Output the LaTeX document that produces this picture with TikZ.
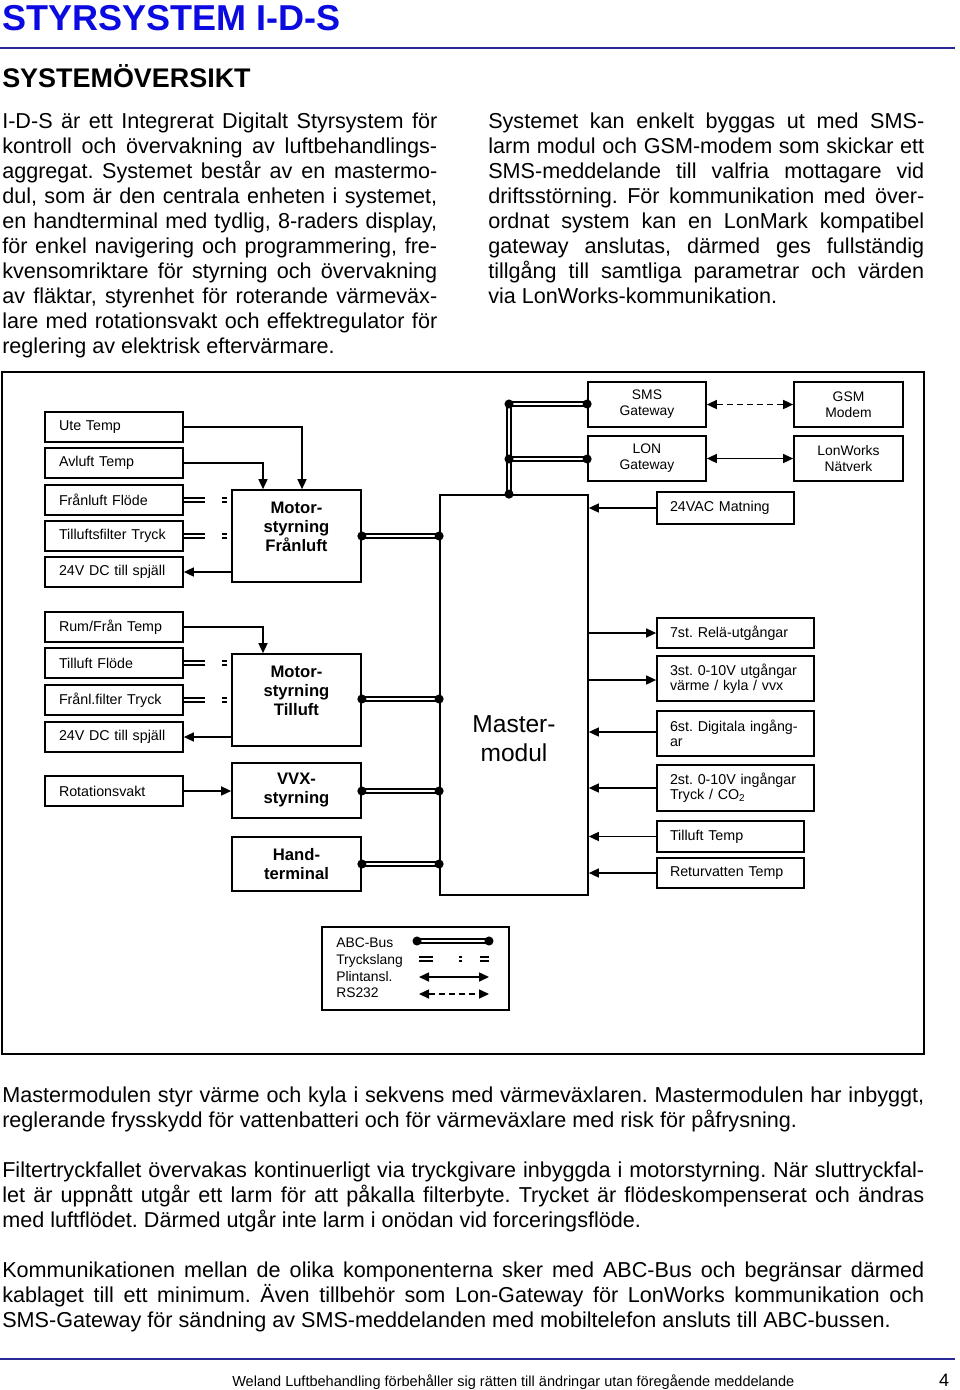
\documentclass[tikz,border=0pt]{standalone}
\usepackage{fontspec}
\setmainfont{Liberation Sans}
\usetikzlibrary{arrows.meta}
\definecolor{titleblue}{RGB}{10,10,225}
\definecolor{rulenavy}{RGB}{40,40,150}
\frenchspacing
\newcommand\jl[1]{\makebox[\linewidth][s]{#1}\\}
\newcommand\bodyfnt{\fontsize{16.2}{18.75}\selectfont}
\newcommand\dlbl{\fontsize{10.7}{12}\selectfont}
\newcommand\dbold{\fontsize{12.5}{14.25}\selectfont\bfseries}
\newcommand\dmaster{\fontsize{18.4}{21.75}\selectfont}
\newcommand\bdot[1]{\fill #1 circle (3.4pt);}
\begin{document}
\begin{tikzpicture}[x=0.75pt,y=-0.75pt,
  conn/.style={line width=1.05pt},
  arr/.style={conn,-{Triangle[length=7.5pt,width=6.8pt]}},
  darr/.style={conn,{Triangle[length=7.5pt,width=6.8pt]}-{Triangle[length=7.5pt,width=6.8pt]}},
  bus/.style={double, double distance=1.2pt, line width=1.45pt},
  tryck/.style={double, double distance=1.2pt, line width=1.35pt, dash pattern=on 15.75pt off 12.75pt on 3.75pt off 30pt},
  lbox/.style={draw, line width=1.3pt, font=\dlbl, inner xsep=10.5pt, inner ysep=0pt, text width=82.5pt, minimum height=22.5pt, align=left},
  rbox/.style={draw, line width=1.3pt, font=\dlbl, inner xsep=9.75pt, inner ysep=0pt, text width=98.25pt, align=left},
  gbox/.style={draw, line width=1.3pt, font=\fontsize{10.4}{12}\selectfont, inner sep=0pt, align=center, minimum height=33.75pt},
  boldbox/.style={draw, line width=1.3pt, inner sep=0pt, minimum width=96.75pt, font=\dbold, align=center},
  ptxt/.style={anchor=base west, inner sep=0pt, font=\bodyfnt}
]
\useasboundingbox (0,0) rectangle (960,1390);

% ---------- header ----------
\node[anchor=base west, inner sep=0pt, font=\fontsize{27}{27}\selectfont\bfseries, text=titleblue] (title) at (2,30) {STYRSYSTEM I-D-S};
\draw[rulenavy, line width=1.5pt] (0,48) -- (955,48);
\node[anchor=base west, inner sep=0pt, font=\fontsize{20.2}{20.2}\selectfont\bfseries] (subtitle) at (2,87) {SYSTEMÖVERSIKT};

\node[ptxt] (p1) at (2,128) {\parbox[t]{326.25pt}{\bodyfnt
\jl{I-D-S är ett Integrerat Digitalt Styrsystem för}
\jl{kontroll och övervakning av luftbehandlings-}
\jl{aggregat. Systemet består av en mastermo-}
\jl{dul, som är den centrala enheten i systemet,}
\jl{en handterminal med tydlig, 8-raders display,}
\jl{för enkel navigering och programmering, fre-}
\jl{kvensomriktare för styrning och övervakning}
\jl{av fläktar, styrenhet för roterande värmeväx-}
\jl{lare med rotationsvakt och effektregulator för}
reglering av elektrisk eftervärmare.}};

\node[ptxt] (p2) at (488,128) {\parbox[t]{327pt}{\bodyfnt
\jl{Systemet kan enkelt byggas ut med SMS-}
\jl{larm modul och GSM-modem som skickar ett}
\jl{SMS-meddelande till valfria mottagare vid}
\jl{driftsstörning. För kommunikation med över-}
\jl{ordnat system kan en LonMark kompatibel}
\jl{gateway anslutas, därmed ges fullständig}
\jl{tillgång till samtliga parametrar och värden}
via LonWorks-kommunikation.}};

% ---------- frame ----------
\draw[line width=1.5pt] (2,372) rectangle (924,1054);

% ---------- left column boxes ----------
\node[lbox] (ute) at (114,427) {Ute Temp};
\node[lbox] (avl) at (114,463) {Avluft Temp};
\node[lbox] (ffl) at (114,500) {Frånluft Flöde};
\node[lbox] (tft) at (114,536) {Tilluftsfilter Tryck};
\node[lbox] (dc1) at (114,572) {24V DC till spjäll};
\node[lbox] (rum) at (114,627) {Rum/Från Temp};
\node[lbox] (tfl) at (114,663) {Tilluft Flöde};
\node[lbox] (fft) at (114,700) {Frånl.filter Tryck};
\node[lbox] (dc2) at (114,737) {24V DC till spjäll};
\node[lbox] (rot) at (114,791) {Rotationsvakt};

% ---------- middle boxes ----------
\node[boldbox, minimum height=69pt] (mf) at (296.5,536) {};
\node[inner sep=0pt, font=\dbold, align=center] (mftxt) at (296.5,527) {Motor-\\styrning\\Frånluft};
\node[boldbox, minimum height=69pt] (mt) at (296.5,700) {};
\node[inner sep=0pt, font=\dbold, align=center] (mttxt) at (296.5,691) {Motor-\\styrning\\Tilluft};
\node[boldbox, minimum height=41.25pt] (vvx) at (296.5,790.5) {VVX-\\styrning};
\node[boldbox, minimum height=40.5pt] (hand) at (296.5,864) {Hand-\\terminal};

% ---------- master ----------
\node[draw, line width=1.3pt, inner sep=0pt, minimum width=111pt, minimum height=300pt] (master) at (514,695) {};
\node[inner sep=0pt, font=\dmaster, align=center] (mastertxt) at (514,739) {Master-\\modul};

% ---------- top right ----------
\node[gbox, minimum width=88.5pt] (sms) at (647,404.5) {SMS\\Gateway};
\node[gbox, minimum width=81.75pt] (gsm) at (848.5,404.5) {GSM\\Modem};
\node[gbox, minimum width=88.5pt] (lon) at (647,458.5) {LON\\Gateway};
\node[gbox, minimum width=81.75pt] (lwn) at (848.5,458.5) {LonWorks\\Nätverk};
\node[rbox, text width=83.25pt, minimum height=24pt] (vac) at (725.5,508) {24VAC Matning};

% ---------- right column ----------
\node[rbox, minimum height=22.5pt] (rel) at (735.5,633) {7st. Relä-utgångar};
\node[rbox, minimum height=33.75pt] (utg) at (735.5,678.5) {3st. 0-10V utgångar\\[-1pt]värme / kyla / vvx};
\node[rbox, minimum height=33.75pt] (dig) at (735.5,733.5) {6st. Digitala ingång-\\[-1pt]ar};
\node[rbox, minimum height=34.5pt] (ing) at (735.5,788) {2st. 0-10V ingångar\\[-1pt]Tryck / CO\textsubscript{2}};
\node[rbox, text width=90.75pt, minimum height=23.25pt] (tlt) at (730.5,836.5) {Tilluft Temp};
\node[rbox, text width=90.75pt, minimum height=22.5pt] (ret) at (730.5,873) {Returvatten Temp};

% ---------- connectors left ----------
\draw[arr] (ute.east) -| ([xshift=4.125pt]mf.north);
\draw[arr] (avl.east) -| ([xshift=-25.125pt]mf.north);
\draw[tryck] (ffl.east) -- (ffl.east -| mf.west);
\draw[tryck] (tft.east) -- (tft.east -| mf.west);
\draw[arr] (mf.west |- dc1.east) -- (dc1.east);

\draw[arr] (rum.east) -| ([xshift=-25.125pt]mt.north);
\draw[tryck] (tfl.east) -- (tfl.east -| mt.west);
\draw[tryck] (fft.east) -- (fft.east -| mt.west);
\draw[arr] (mt.west |- dc2.east) -- (dc2.east);
\draw[arr] (rot.east) -- (rot.east -| vvx.west);

% ---------- ABC bus ----------
\draw[bus] (mf.east) -- (mf.east -| master.west);
\bdot{(mf.east)} \bdot{(mf.east -| master.west)}
\draw[bus] (mt.east |- 0,699) -- (master.west |- 0,699);
\bdot{(mt.east |- 0,699)} \bdot{(master.west |- 0,699)}
\draw[bus] (vvx.east |- 0,791) -- (master.west |- 0,791);
\bdot{(vvx.east |- 0,791)} \bdot{(master.west |- 0,791)}
\draw[bus] (hand.east) -- (hand.east -| master.west);
\bdot{(hand.east)} \bdot{(hand.east -| master.west)}

\coordinate (bj1) at (509,404);
\coordinate (bj2) at (509,459);
\draw[bus] (master.north -| bj1) -- (bj1) -- (bj1 -| sms.west);
\draw[bus] (bj2) -- (bj2 -| lon.west);
\bdot{(master.north -| bj1)} \bdot{(bj1)} \bdot{(bj1 -| sms.west)} \bdot{(bj2)} \bdot{(bj2 -| lon.west)}

% ---------- connectors right ----------
\draw[darr, dash pattern=on 4.5pt off 3pt] (sms.east) -- (gsm.west);
\draw[darr] (lon.east) -- (lwn.west);
\draw[arr] (vac.west) -- (vac.west -| master.east);
\draw[arr] (master.east |- rel.west) -- (rel.west);
\draw[arr] (master.east |- 0,680) -- (utg.west |- 0,680);
\draw[arr] (dig.west |- 0,732) -- (master.east |- 0,732);
\draw[arr] (ing.west) -- (ing.west -| master.east);
\draw[arr] (tlt.west) -- (tlt.west -| master.east);
\draw[arr] (ret.west) -- (ret.west -| master.east);

% ---------- legend ----------
\node[draw, line width=1.3pt, inner sep=0pt, minimum width=140.25pt, minimum height=62.25pt] (legend) at (415.5,968.5) {};
\node[anchor=north west, inner sep=0pt, align=left, font=\fontsize{10.4}{12.5}\selectfont] (legtxt) at (336,938) {ABC-Bus\\Tryckslang\\Plintansl.\\RS232};
\coordinate (l1a) at (417,941); \coordinate (l1b) at (489,941);
\coordinate (l2a) at (419,959); \coordinate (l2b) at (489,959);
\coordinate (l3a) at (419,977); \coordinate (l3b) at (489,977);
\coordinate (l4a) at (419,994); \coordinate (l4b) at (489,994);
\draw[bus] (l1a) -- (l1b); \bdot{(l1a)} \bdot{(l1b)}
\draw[double, double distance=1.2pt, line width=1.35pt, dash pattern=on 10.5pt off 19.5pt on 2.25pt off 13.5pt on 6.75pt off 40pt] (l2a) -- (l2b);
\draw[darr] (l3a) -- (l3b);
\draw[darr, dash pattern=on 4.5pt off 3pt] (l4a) -- (l4b);

% ---------- bottom text ----------
\node[ptxt] (p3) at (2,1102) {\parbox[t]{691.5pt}{\bodyfnt
\jl{Mastermodulen styr värme och kyla i sekvens med värmeväxlaren. Mastermodulen har inbyggt,}
reglerande frysskydd för vattenbatteri och för värmeväxlare med risk för påfrysning.}};
\node[ptxt] (p4) at (2,1177) {\parbox[t]{691.5pt}{\bodyfnt
\jl{Filtertryckfallet övervakas kontinuerligt via tryckgivare inbyggda i motorstyrning. När sluttryckfal-}
\jl{let är uppnått utgår ett larm för att påkalla filterbyte. Trycket är flödeskompenserat och ändras}
med luftflödet. Därmed utgår inte larm i onödan vid forceringsflöde.}};
\node[ptxt] (p5) at (2,1277) {\parbox[t]{691.5pt}{\bodyfnt
\jl{Kommunikationen mellan de olika komponenterna sker med ABC-Bus och begränsar därmed}
\jl{kablaget till ett minimum. Även tillbehör som Lon-Gateway för LonWorks kommunikation och}
SMS-Gateway för sändning av SMS-meddelanden med mobiltelefon ansluts till ABC-bussen.}};

% ---------- footer ----------
\draw[rulenavy, line width=1.5pt] (0,1359) -- (955,1359);
\node[anchor=base west, inner sep=0pt, font=\fontsize{10.9}{12}\selectfont] (foot) at (232,1386) {Weland Luftbehandling förbehåller sig rätten till ändringar utan föregående meddelande};
\node[anchor=base, inner sep=0pt, font=\fontsize{13.5}{14}\selectfont] (pageno) at (944,1386) {4};
\end{tikzpicture}
\end{document}
